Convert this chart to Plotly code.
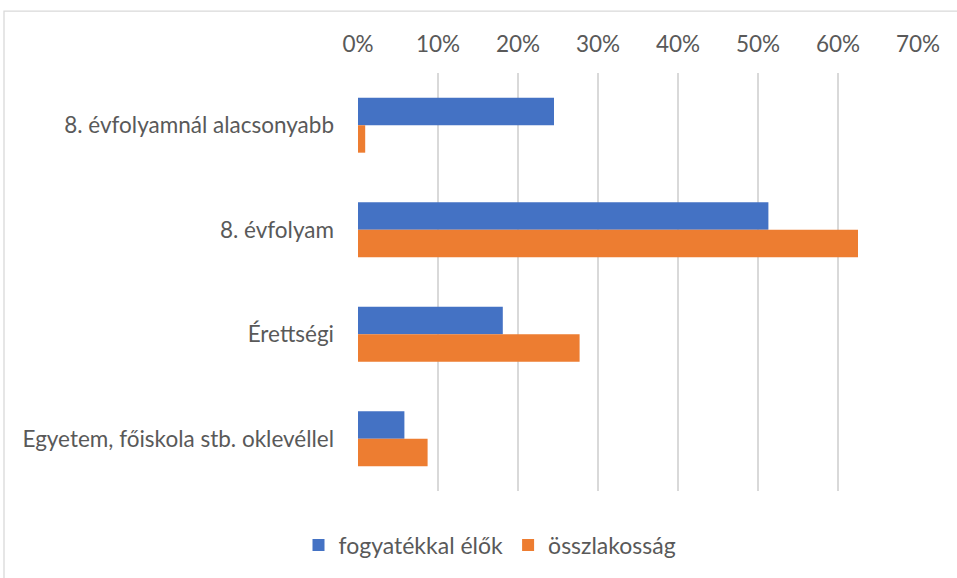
import plotly.graph_objects as go

categories = ["8. évfolyamnál alacsonyabb", "8. évfolyam", "Érettségi", "Egyetem, főiskola stb. oklevéllel"]
series_names = ["fogyatékkal élők", "összlakosság"]
fogyatekkal = [0.245, 0.513, 0.181, 0.058]
osszlakossag = [0.009, 0.625, 0.277, 0.087]
tick_vals = [0, 0.1, 0.2, 0.3, 0.4, 0.5, 0.6, 0.7]
tick_text = ["0%", "10%", "20%", "30%", "40%", "50%", "60%", "70%"]

colors = ["#4472C4", "#ED7D31"]
font_family = "Lato, 'Open Sans', sans-serif"
text_color = "#595959"
fs = 22.5

fig = go.Figure()
for name, vals, col in zip(series_names, [fogyatekkal, osszlakossag], colors):
    fig.add_trace(go.Bar(
        y=categories, x=vals, name=name, orientation="h",
        marker=dict(color=col, line=dict(width=0)),
        hoverinfo="x+y+name",
    ))

W, H = 957, 578
left, right, top, bottom = 358, 918, 72.5, 494.5
pw, ph = right - left, bottom - top

fig.update_layout(
    width=W, height=H,
    margin=dict(l=left, r=W - right, t=top, b=H - bottom),
    paper_bgcolor="white", plot_bgcolor="white",
    barmode="group", bargap=0.475, bargroupgap=0,
    font=dict(family=font_family, size=fs, color=text_color),
    xaxis=dict(
        side="top", range=[0, 0.7], tickvals=tick_vals, ticktext=tick_text,
        showgrid=True, gridcolor="#d9d9d9", gridwidth=1.6,
        zeroline=False, showline=False, ticks="", ticklabelstandoff=16,
        tickfont=dict(size=fs, color=text_color), fixedrange=True,
    ),
    yaxis=dict(
        autorange="reversed", showgrid=False, zeroline=False, showline=False,
        ticks="", ticklabelstandoff=23, tickfont=dict(size=fs, color=text_color),
        fixedrange=True,
    ),
    legend=dict(
        orientation="h", x=(490 - left) / pw, xanchor="center",
        y=-(549 - bottom) / ph, yanchor="middle",
        font=dict(size=23, color=text_color), itemwidth=30,
        bgcolor="rgba(0,0,0,0)",
    ),
    showlegend=True,
    shapes=[dict(
        type="rect", xref="paper", yref="paper",
        x0=(4 - left) / pw, x1=(W + 20 - left) / pw,
        y0=-(H + 20 - bottom) / ph, y1=(bottom - 10) / ph,
        line=dict(color="#d9d9d9", width=1.3), fillcolor="rgba(0,0,0,0)",
        layer="below",
    )],
)

fig.write_html("out.html", config={"displayModeBar": False})
with open("out.html", "r", encoding="utf-8") as f:
    html = f.read()
html = html.replace("<head>", "<head><style>html,body{margin:0;padding:0;overflow:hidden;}</style>", 1)
with open("out.html", "w", encoding="utf-8") as f:
    f.write(html)
